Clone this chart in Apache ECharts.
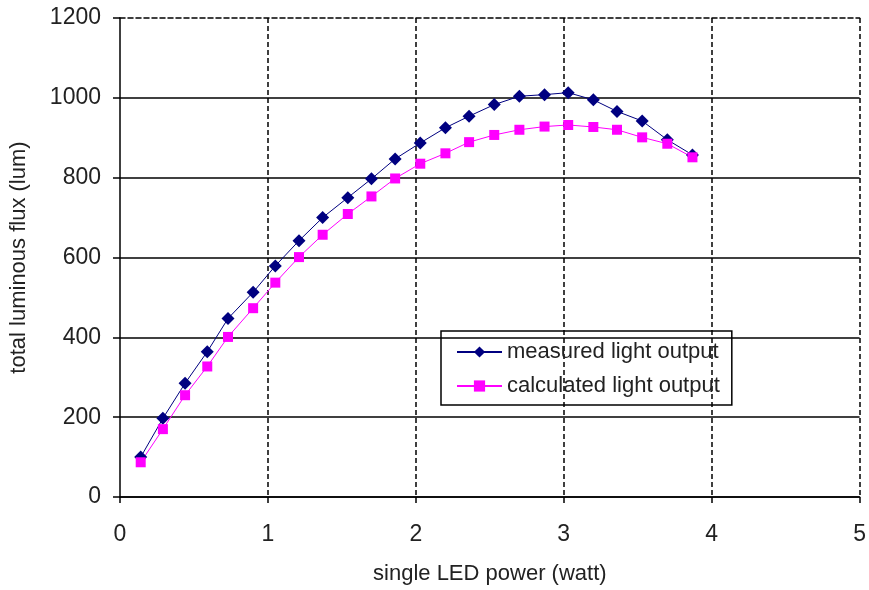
<!DOCTYPE html>
<html>
<head>
<meta charset="utf-8">
<script src="https://cdn.jsdelivr.net/npm/echarts@6/dist/echarts.min.js"></script>
<style>
html,body{margin:0;padding:0;background:#fff;}
#chart{width:869px;height:590px;}
</style>
</head>
<body>
<div id="chart"></div>
<script>
const powerW = [0.14, 0.29, 0.44, 0.59, 0.73, 0.90, 1.05, 1.21, 1.37, 1.54, 1.70, 1.86,
                2.03, 2.20, 2.36, 2.53, 2.70, 2.87, 3.03, 3.20, 3.36, 3.53, 3.70, 3.87];
const measured = [100, 197, 285, 364, 447, 513, 579, 642, 700, 750, 797, 847,
                  887, 925, 954, 983, 1004, 1008, 1013, 995, 966, 942, 895, 857];
const calculated = [87, 170, 255, 327, 401, 473, 537, 601, 657, 709, 753, 798,
                    835, 861, 889, 907, 920, 928, 932, 927, 920, 901, 885, 851];
const seriesNames = ['measured light output', 'calculated light output'];
const xTitle = 'single LED power (watt)';
const yTitle = 'total luminous flux (lum)';

const font = 'Liberation Sans, Arial, sans-serif';
const txt = '#222';
const chart = echarts.init(document.getElementById('chart'), null, {renderer: 'canvas'});
chart.setOption({
  animation: false,
  backgroundColor: '#fff',
  grid: {left: 119, right: 7, top: 18, bottom: 93, containLabel: false},
  legend: {
    left: 441, top: 331, orient: 'vertical',
    borderColor: '#000', borderWidth: 1.5,
    padding: [10, 12, 8, 15],
    itemWidth: 45, itemHeight: 14, itemGap: 12,
    textStyle: {fontSize: 22, color: txt, fontFamily: font},
    data: seriesNames
  },
  xAxis: [{
    type: 'value', min: 0, max: 5, interval: 1, position: 'bottom',
    name: xTitle, nameLocation: 'middle', nameGap: 66,
    nameTextStyle: {fontSize: 22, color: txt, fontFamily: font},
    axisLine: {show: true, onZero: false, lineStyle: {color: '#000', width: 1.5}},
    axisTick: {show: true, length: 6, lineStyle: {color: '#000', width: 1.5}},
    axisLabel: {fontSize: 23, color: txt, fontFamily: font, margin: 26, formatter: v => String(v)},
    splitLine: {show: true, showMinLine: false, lineStyle: {color: '#000', width: 1.5, type: [5, 3]}}
  }, {
    type: 'value', min: 0, max: 5, interval: 1, position: 'top',
    axisLine: {show: true, onZero: false, lineStyle: {color: '#000', width: 1.5, type: [5, 3]}},
    axisTick: {show: false}, axisLabel: {show: false}, splitLine: {show: false}
  }],
  yAxis: {
    type: 'value', min: 0, max: 1200, interval: 200,
    name: yTitle, nameLocation: 'middle', nameGap: 90, nameRotate: 90,
    nameTextStyle: {fontSize: 22, color: txt, fontFamily: font},
    axisLine: {show: true, onZero: false, lineStyle: {color: '#000', width: 1.5}},
    axisTick: {show: true, length: 7, lineStyle: {color: '#000', width: 1.5}},
    axisLabel: {fontSize: 23, color: txt, fontFamily: font, margin: 19, formatter: v => String(v)},
    splitLine: {show: true, showMaxLine: false, lineStyle: {color: '#000', width: 1.5, type: 'solid'}}
  },
  series: [{
    name: seriesNames[0], type: 'line',
    data: powerW.map((x, i) => [x, measured[i]]),
    symbol: 'diamond', symbolSize: 13,
    itemStyle: {color: '#000080'},
    lineStyle: {color: '#000080', width: 1}
  }, {
    name: seriesNames[1], type: 'line',
    data: powerW.map((x, i) => [x, calculated[i]]),
    symbol: 'rect', symbolSize: 10,
    itemStyle: {color: '#ff00ff'},
    lineStyle: {color: '#ff00ff', width: 1}
  }]
});
</script>
</body>
</html>
